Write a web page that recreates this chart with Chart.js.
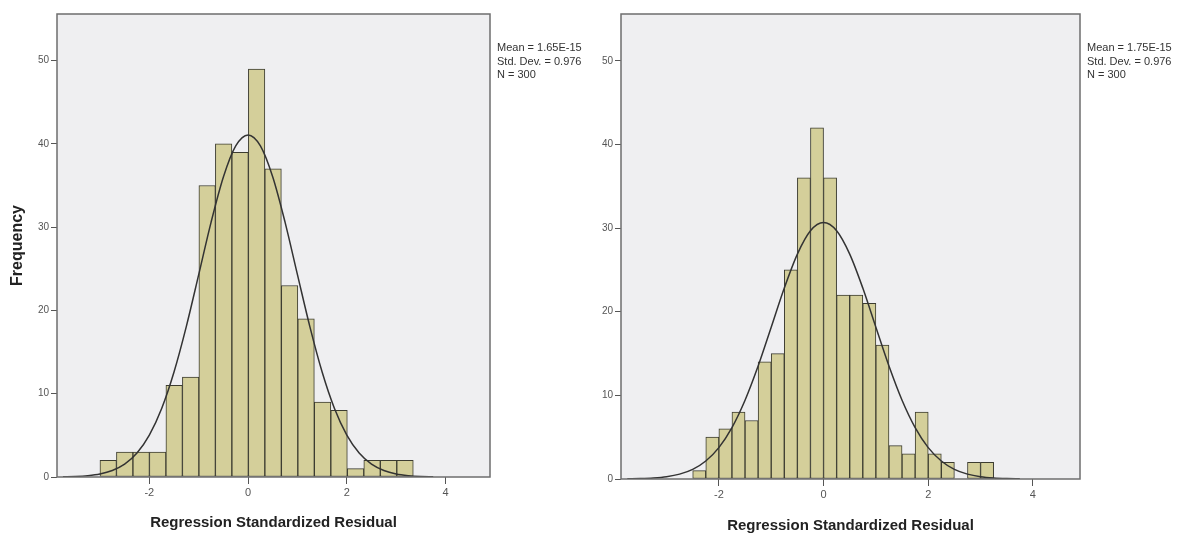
<!DOCTYPE html>
<html>
<head>
<meta charset="utf-8">
<script src="https://cdn.jsdelivr.net/npm/chart.js@4.4.1/dist/chart.umd.min.js"></script>
<style>
  body { margin: 0; background: #fff; }
  #wrap { position: relative; width: 1187px; height: 536px; }
  canvas { position: absolute; top: 0; }
  .stats { position: absolute; top: 41px; font: 11px "Liberation Sans", Arial, sans-serif; line-height: 13.5px; color: #333; white-space: nowrap; }
</style>
</head>
<body>
<div id="wrap">
  <canvas id="leftChart" width="593" height="536" style="left:0"></canvas>
  <canvas id="rightChart" width="594" height="536" style="left:593px"></canvas>
  <div class="stats" id="leftStats" style="left:497px"></div>
  <div class="stats" id="rightStats" style="left:1087px"></div>
</div>
<script>
// axis ticks
const xTicks = [-2, 0, 2, 4];
const yTicks = [0, 10, 20, 30, 40, 50];

// left histogram: bin centres and frequencies
const leftBins = [-2.833, -2.499, -2.165, -1.831, -1.497, -1.163, -0.829, -0.495, -0.161, 0.173, 0.507, 0.841, 1.175, 1.509, 1.843, 2.177, 2.511, 2.845, 3.179];
const leftCounts = [2, 3, 3, 3, 11, 12, 35, 40, 39, 49, 37, 23, 19, 9, 8, 1, 2, 2, 2];

// right histogram
const rightBins = [-2.375, -2.125, -1.875, -1.625, -1.375, -1.125, -0.875, -0.625, -0.375, -0.125, 0.125, 0.375, 0.625, 0.875, 1.125, 1.375, 1.625, 1.875, 2.125, 2.375, 2.625, 2.875, 3.125];
const rightCounts = [1, 5, 6, 8, 7, 14, 15, 25, 36, 42, 36, 22, 22, 21, 16, 4, 3, 8, 3, 2, 0, 2, 2];

// normal curves
const curveX = [-3.75, -3.5, -3.25, -3, -2.75, -2.5, -2.25, -2, -1.75, -1.5, -1.25, -1, -0.75, -0.5, -0.25, 0, 0.25, 0.5, 0.75, 1, 1.25, 1.5, 1.75, 2, 2.25, 2.5, 2.75, 3, 3.25, 3.5, 3.75];
const leftCurve = [0.025, 0.066, 0.16, 0.36, 0.78, 1.54, 2.88, 5.03, 8.23, 12.61, 18.09, 24.3, 30.58, 36.03, 39.76, 41.08, 39.76, 36.03, 30.58, 24.3, 18.09, 12.61, 8.23, 5.03, 2.88, 1.54, 0.78, 0.36, 0.16, 0.066, 0.025];
const rightCurve = [0.02, 0.05, 0.12, 0.27, 0.58, 1.15, 2.15, 3.75, 6.14, 9.41, 13.5, 18.14, 22.83, 26.89, 29.68, 30.66, 29.68, 26.89, 22.83, 18.14, 13.5, 9.41, 6.14, 3.75, 2.15, 1.15, 0.58, 0.27, 0.12, 0.05, 0.02];

const leftStats = ["Mean = 1.65E-15", "Std. Dev. = 0.976", "N = 300"];
const rightStats = ["Mean = 1.75E-15", "Std. Dev. = 0.976", "N = 300"];

const FONT = "'Liberation Sans', Arial, sans-serif";

document.getElementById("leftStats").innerHTML = leftStats.join("<br>");
document.getElementById("rightStats").innerHTML = rightStats.join("<br>");

// grey plot background + frame like SPSS
const plotFrame = {
    id: "plotFrame",
    beforeDatasetsDraw(chart) {
        const { ctx, chartArea: a } = chart;
        ctx.save();
        ctx.fillStyle = "#efeff1";
        ctx.fillRect(a.left, a.top, a.width, a.height);
        ctx.restore();
    },
    afterDatasetsDraw(chart) {
        const { ctx, chartArea: a } = chart;
        ctx.save();
        ctx.strokeStyle = "#6e6e6e";
        ctx.lineWidth = 1.5;
        ctx.strokeRect(a.left, a.top, a.width, a.height);
        ctx.restore();
    }
};

function histogram(id, bins, counts, curve, cfg) {
    return new Chart(document.getElementById(id), {
        type: "bar",
        data: {
            datasets: [{
                type: "line",
                data: curveX.map((x, i) => ({ x: x, y: curve[i] })),
                borderColor: "#333",
                borderWidth: 1.5,
                pointRadius: 0,
                cubicInterpolationMode: "monotone",
                order: 1
            }, {
                data: bins.map((x, i) => ({ x: x, y: counts[i] })),
                backgroundColor: "#d4cf9a",
                borderColor: "#3c3c30",
                borderWidth: 1,
                borderSkipped: false,
                barPercentage: 1,
                categoryPercentage: 1,
                order: 2
            }]
        },
        options: {
            responsive: false,
            animation: false,
            layout: { padding: { top: 14, right: cfg.padRight, left: 0, bottom: 0 } },
            plugins: { legend: { display: false }, tooltip: { enabled: false } },
            scales: {
                x: {
                    type: "linear",
                    min: -3.87,
                    max: 4.9,
                    offset: false,
                    grid: { offset: false, drawOnChartArea: false, color: "#555", tickLength: 7 },
                    border: { display: false },
                    ticks: { font: { family: FONT, size: 11 }, color: "#555", padding: 2, maxRotation: 0 },
                    afterBuildTicks: s => { s.ticks = xTicks.map(v => ({ value: v })); },
                    afterFit: s => { s.height = cfg.xHeight; },
                    title: {
                        display: true,
                        text: "Regression Standardized Residual",
                        font: { family: FONT, size: 15, weight: "bold" },
                        color: "#222",
                        padding: { top: 0, bottom: cfg.titlePad }
                    }
                },
                y: {
                    min: 0,
                    max: 55.6,
                    grid: { drawOnChartArea: false, color: "#555", tickLength: 6 },
                    border: { display: false },
                    ticks: { font: { family: FONT, size: 10 }, color: "#555", padding: 2 },
                    afterBuildTicks: s => { s.ticks = yTicks.map(v => ({ value: v })); },
                    afterFit: s => { s.width = cfg.yWidth; },
                    title: {
                        display: cfg.yTitle,
                        text: "Frequency",
                        font: { family: FONT, size: 16, weight: "bold" },
                        color: "#222",
                        padding: { top: 8, bottom: 0 }
                    }
                }
            }
        },
        plugins: [plotFrame]
    });
}

histogram("leftChart", leftBins, leftCounts, leftCurve, { padRight: 103, xHeight: 59, yWidth: 57, yTitle: true, titlePad: 4 });
histogram("rightChart", rightBins, rightCounts, rightCurve, { padRight: 107, xHeight: 57, yWidth: 28, yTitle: false, titlePad: 1 });
</script>
</body>
</html>
